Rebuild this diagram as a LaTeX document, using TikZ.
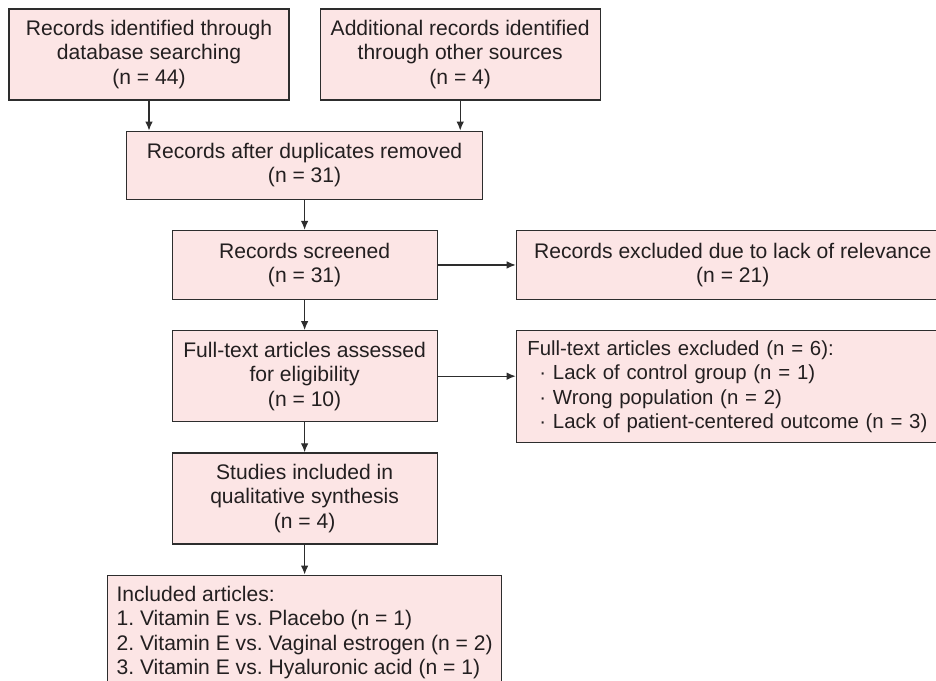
\documentclass[tikz,border=0pt]{standalone}
\usepackage{fontspec}
\setmainfont{Liberation Sans}
\usetikzlibrary{arrows.meta,positioning,calc}
\definecolor{boxfill}{RGB}{252,229,229}
\definecolor{boxline}{RGB}{45,45,45}
\definecolor{boxtext}{RGB}{35,31,32}
\frenchspacing

\begin{document}
\begin{tikzpicture}[
  node distance=0.6cm and 1.56cm,
  box/.style={draw=boxline, line width=0.7pt, fill=boxfill, text=boxtext, font=\fontsize{12}{13.9}\selectfont, align=center, inner sep=0pt},
  listbox/.style={box, align=left},
  arr/.style={-{Latex[length=1.8mm, width=1.5mm]}, draw=boxline, line width=0.7pt},
]
  \path[use as bounding box, clip] (0,0) rectangle (18.72,-13.62);

  % Row 1: Identification
  \node[box, minimum width=5.6cm, minimum height=1.82cm] (search) at (2.98,-1.09) {Records identified through\\database searching\\(n = 44)};
  \node[box, minimum width=5.6cm, minimum height=1.82cm, right=0.6cm of search] (other) {Additional records identified\\through other sources\\(n = 4)};

  % Row 2: Duplicates (centered between the two sources)
  \coordinate (mid) at ($(search.south)!0.5!(other.south)$);
  \node[box, minimum width=7.12cm, minimum height=1.36cm, below=0.6cm of mid] (dupl) {Records after duplicates removed\\(n = 31)};

  % Rows 3-6: main column
  \node[box, minimum width=5.3cm, minimum height=1.38cm, below=of dupl] (screened) {Records screened\\(n = 31)};
  \node[box, minimum width=5.3cm, minimum height=1.82cm, below=of screened] (fulltext) {Full-text articles assessed\\for eligibility\\(n = 10)};
  \node[box, minimum width=5.3cm, minimum height=1.82cm, below=of fulltext] (included) {Studies included in\\qualitative synthesis\\(n = 4)};
  \node[listbox, minimum width=7.88cm, minimum height=2.3cm, below=of included] (articles) {Included articles:\\1. Vitamin E vs. Placebo (n = 1)\\2. Vitamin E vs. Vaginal estrogen (n = 2)\\3. Vitamin E vs. Hyaluronic acid (n = 1)};

  % Exclusions on the right
  \node[box, minimum width=8.66cm, minimum height=1.38cm, right=of screened] (excl1) {Records excluded due to lack of relevance\\(n = 21)};
  \node[listbox, font=\fontsize{11.6}{13.9}\selectfont, minimum width=8.98cm, minimum height=2.24cm, inner xsep=0.22cm, text width=8.54cm, right=1.56cm of fulltext.north east, anchor=north west] (excl2) {Full-text articles excluded (n = 6):\\\hspace*{0.24cm}· Lack of control group (n = 1)\\\hspace*{0.24cm}· Wrong population (n = 2)\\\hspace*{0.24cm}· Lack of patient-centered outcome (n = 3)};

  % Arrows
  \draw[arr] (search.south) -- (search.south |- dupl.north);
  \draw[arr] (other.south) -- (other.south |- dupl.north);
  \draw[arr] (dupl) -- (screened);
  \draw[arr] (screened) -- (excl1);
  \draw[arr] (screened) -- (fulltext);
  \draw[arr] (fulltext.east) -- (fulltext.east -| excl2.west);
  \draw[arr] (fulltext) -- (included);
  \draw[arr] (included) -- (articles);
\end{tikzpicture}
\end{document}
